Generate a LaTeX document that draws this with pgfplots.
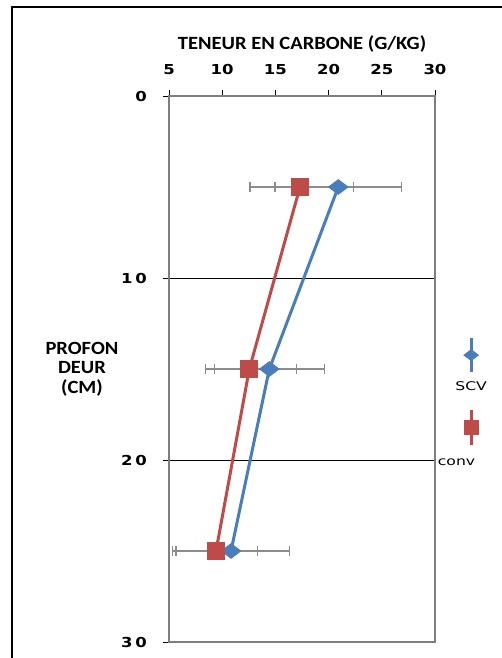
\documentclass[border=0pt]{standalone}
\usepackage{fontspec}
\setmainfont{Carlito}
\usepackage{pgfplots}
\pgfplotsset{compat=1.18}
\newfontfamily\titlefont[FakeStretch=1.1]{Carlito}
\newfontfamily\tickfont[FakeStretch=1.2]{DejaVu Sans}
\newfontfamily\legfont[FakeStretch=1.3]{DejaVu Sans}
\definecolor{scvblue}{HTML}{4A7EBB}
\definecolor{convred}{HTML}{BE4B48}
\definecolor{errgray}{HTML}{8C8C8C}
\definecolor{axgray}{HTML}{7F7F7F}
\begin{document}
\begin{tikzpicture}
\useasboundingbox (0pt,0pt) rectangle (376.5pt,-493.5pt);
\draw[line width=1.5pt] (9pt,-520pt) -- (9pt,-5.25pt) -- (400pt,-5.25pt);
\begin{axis}[
  at={(126.75pt,-481.5pt)}, anchor=south west,
  scale only axis, width=199.5pt, height=409.5pt,
  xmin=5, xmax=30, ymin=0, ymax=30,
  y dir=reverse,
  xtick={5,10,15,20,25,30},
  ytick={0,10,20,30},
  yticklabels={0,1\hspace{0.2em}0,2\hspace{0.2em}0,3\hspace{0.2em}0},
  xtick pos=right, xticklabel pos=right,
  ytick pos=left,
  tick align=outside,
  major tick length=4.5pt,
  tick style={black, line width=0.6pt},
  x axis line style={black, line width=0.9pt},
  y axis line style={axgray, line width=1.4pt},
  ymajorgrids, grid style={black, line width=0.75pt},
  /pgf/number format/assume math mode=true,
  ticklabel style={font=\tickfont\bfseries\fontsize{10.3}{11}\selectfont},
  xticklabel style={anchor=base, yshift=12pt},
  yticklabel style={anchor=east, inner sep=0pt, xshift=-12pt},
  title={TENEUR EN CARBONE (G/KG)},
  title style={at={(0.5,1)}, anchor=base, yshift=29pt, font=\titlefont\bfseries\fontsize{14}{16}\selectfont},
  ylabel={PROFON\\DEUR\\(CM)},
  ylabel style={rotate=-90, at={(0,0.5)}, anchor=center, xshift=-65.25pt, align=center, font=\titlefont\bfseries\fontsize{14}{14.6}\selectfont},
  legend style={at={(1.113,0.5604)}, anchor=north, draw=none, fill=none, row sep=10pt, inner sep=0pt},
]
\addplot[scvblue, line width=2.25pt, mark=diamond*, mark size=6pt, mark options={rotate=90, solid},
  legend image code/.code={
    \draw[line width=2.25pt] (0pt,-13pt) -- (0pt,13pt);
    \draw[mark repeat=2,mark phase=2, mark size=4.1pt] plot coordinates {(-0.5pt,0pt)(0pt,0pt)(0.5pt,0pt)};
    \node[text=black, font=\legfont\fontsize{9}{10}\selectfont] at (0pt,-24pt) {SCV};
  },
  error bars/.cd, x dir=both, x explicit, error mark=|,
  error bar style={errgray, line width=0.8pt},
  error mark options={errgray, mark size=3.4pt, line width=0.8pt}]
coordinates {
 (20.91,5) += (5.96,0) -= (5.95,0)
 (14.43,15) += (5.17,0) -= (5.11,0)
 (10.83,25) += (5.47,0) -= (5.52,0)
};
\addlegendentry{}
\addplot[convred, line width=2.25pt, mark=square*, mark size=5.5pt, mark options={solid},
  legend image code/.code={
    \draw[line width=2.25pt] (0pt,-13pt) -- (0pt,13pt);
    \draw[mark repeat=2,mark phase=2, mark size=4.5pt] plot coordinates {(-0.5pt,0pt)(0pt,0pt)(0.5pt,0pt)};
    \node[text=black, font=\legfont\fontsize{9}{10}\selectfont] at (-11pt,-27pt) {conv};
  },
  error bars/.cd, x dir=both, x explicit, error mark=|,
  error bar style={errgray, line width=0.8pt},
  error mark options={errgray, mark size=3.4pt, line width=0.8pt}]
coordinates {
 (17.31,5) += (5.01,0) -= (4.70,0)
 (12.55,15) += (4.39,0) -= (4.10,0)
 (9.42,25) += (3.88,0) -= (3.76,0)
};
\addlegendentry{}
\end{axis}
\end{tikzpicture}
\end{document}
